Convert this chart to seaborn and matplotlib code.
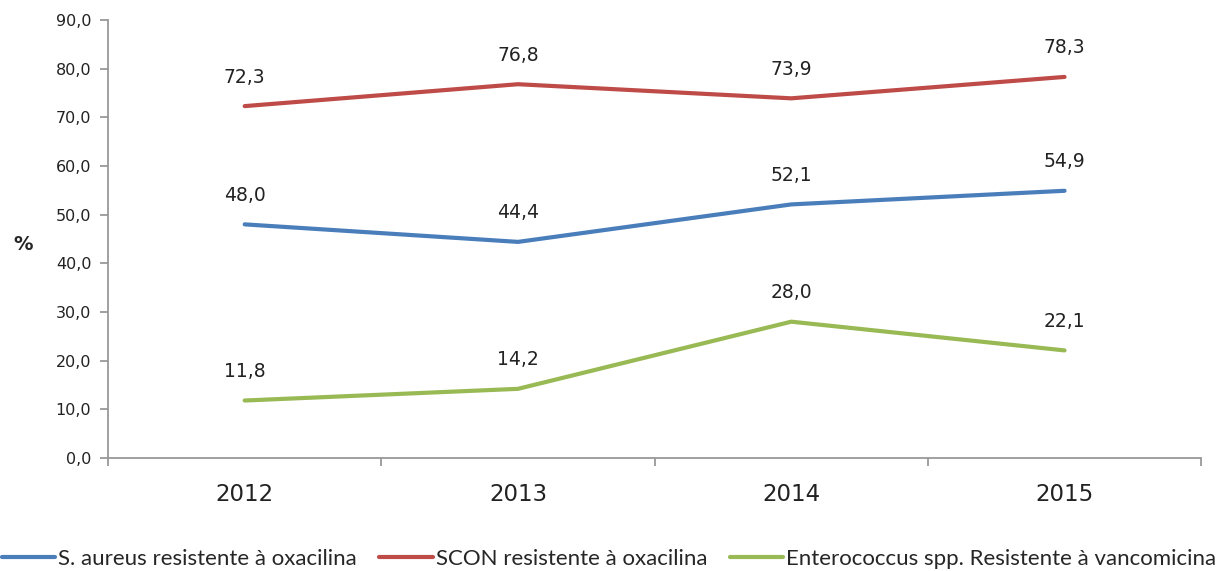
import matplotlib
matplotlib.use("Agg")
import matplotlib.pyplot as plt
import pandas as pd
import seaborn as sns

# data
anos = ["2012", "2013", "2014", "2015"]
s_aureus = [48.0, 44.4, 52.1, 54.9]
scon = [72.3, 76.8, 73.9, 78.3]
enterococcus = [11.8, 14.2, 28.0, 22.1]
series_names = ["S. aureus resistente à oxacilina",
                "SCON resistente à oxacilina",
                "Enterococcus spp. Resistente à vancomicina"]
cores = ["#4A7EBB", "#BE4B48", "#98B954"]

df = pd.DataFrame({"ano": anos * 3,
                   "x": list(range(len(anos))) * 3,
                   "valor": s_aureus + scon + enterococcus,
                   "serie": [s for s in series_names for _ in anos]})

sns.set_style("white")
plt.rcParams["font.family"] = ["DejaVu Sans"]

fig = plt.figure(figsize=(12.18, 5.71), dpi=100)
ax = fig.add_axes([0.0887, 0.198, 0.8975, 0.767])

sns.lineplot(data=df, x="x", y="valor", hue="serie", palette=cores,
             hue_order=series_names, linewidth=3.0, ax=ax, legend=True)

# data labels above each point
for _, r in df.iterrows():
    ax.annotate(f"{r['valor']:.1f}".replace(".", ","), (r["x"], r["valor"]),
                xytext=(0, 14), textcoords="offset points",
                ha="center", va="bottom", fontsize=13.5, color="#222222")

ax.set_xlim(-0.5, 3.5)
ax.set_ylim(0, 90)
ax.set_yticks(range(0, 91, 10))
ax.set_yticklabels([f"{v},0" for v in range(0, 91, 10)], fontsize=11.5, color="#222222")
ax.set_xticks([-0.5, 0.5, 1.5, 2.5, 3.5])
ax.set_xticklabels([])
ax.set_xticks(range(len(anos)), minor=True)
ax.set_xticklabels(anos, minor=True, fontsize=16.5, color="#222222")
ax.tick_params(axis="x", which="major", bottom=True, length=6, direction="out",
               color="#999999", width=1.3)
ax.tick_params(axis="x", which="minor", bottom=True, length=0, pad=18)
ax.tick_params(axis="y", left=True, length=6, direction="out", color="#999999",
               width=1.3, pad=6)
ax.set_xlabel("")
ax.set_ylabel("%", rotation=0, fontsize=14, fontweight="bold")
ax.yaxis.set_label_coords(-0.078, 0.465)

for s in ["top", "right"]:
    ax.spines[s].set_visible(False)
for s in ["left", "bottom"]:
    ax.spines[s].set_color("#999999")
    ax.spines[s].set_linewidth(1.3)

handles, labels = ax.get_legend_handles_labels()
ax.legend(handles, labels, loc="lower center", bbox_to_anchor=(0.5, -0.012),
          bbox_transform=fig.transFigure, ncol=3, frameon=False,
          prop={"family": "Lato", "size": 16}, handlelength=2.4,
          handletextpad=0.15, columnspacing=1.0, borderaxespad=0.0)

fig.savefig("out.png", dpi=100)
